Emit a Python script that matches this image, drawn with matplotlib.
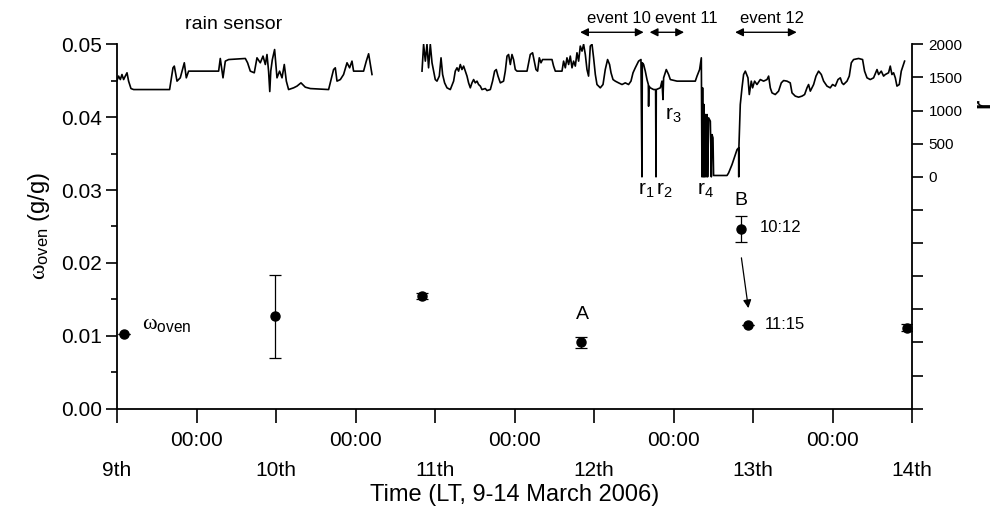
import matplotlib
matplotlib.use("Agg")
import matplotlib.pyplot as plt
import matplotlib.transforms as mtransforms
import numpy as np

plt.rcParams['font.family'] = ['Liberation Sans', 'DejaVu Sans']
plt.rcParams['mathtext.fontset'] = 'custom'
plt.rcParams['mathtext.rm'] = 'Liberation Sans'
plt.rcParams['mathtext.it'] = 'Liberation Serif'
plt.rcParams['mathtext.bf'] = 'Liberation Sans:bold'

# ---------------- data ----------------
# time axis: hours since 9 March 2006 12:00 LT
tick_hours = [0, 12, 24, 36, 48, 60, 72, 84, 96, 108, 120]
tick_labels = ['9th', '00:00', '10th', '00:00', '11th', '00:00', '12th', '00:00', '13th', '00:00', '14th']

# oven-dried water content samples
oven_h = [1.1, 23.85, 46.0, 70.1, 94.2, 95.25, 119.2]
oven_w = [0.0103, 0.0127, 0.0155, 0.0091, 0.0247, 0.0115, 0.0111]
oven_err = [0.0, 0.0057, 0.0004, 0.0008, 0.0018, 0.0, 0.0005]

# rain sensor record r (before the data gap)
rain_h_1 = [0.0, 0.24, 0.50, 0.75, 1.00, 1.25, 1.51, 1.75, 2.11, 2.51, 7.94, 8.45, 8.65, 9.06,
            9.55, 10.16, 10.46, 10.81, 15.34, 15.59, 16.00, 16.35, 16.85, 19.37, 19.71, 20.12,
            20.72, 21.13, 21.63, 22.04, 22.39, 22.64, 22.88, 23.06, 23.21, 23.44, 23.79, 24.15,
            24.54, 24.91, 25.25, 25.56, 25.90, 26.66, 27.17, 27.77, 28.42, 29.18, 31.94, 32.69,
            32.95, 33.21, 33.71, 34.20, 34.72, 35.11, 35.47, 35.71, 37.22, 37.63, 37.98, 38.49]
rain_r_1 = [1453, 1520, 1468, 1544, 1468, 1520, 1570, 1444, 1332, 1317, 1317, 1645, 1671, 1444,
            1494, 1721, 1494, 1595, 1595, 1786, 1494, 1746, 1770, 1786, 1721, 1595,
            1570, 1796, 1721, 1822, 1695, 1846, 1595, 1287, 1595, 1766, 1921, 1494,
            1595, 1494, 1695, 1444, 1317, 1343, 1369, 1418, 1353, 1332, 1317, 1619,
            1645, 1444, 1468, 1544, 1721, 1645, 1746, 1595, 1595, 1746, 1857, 1544]

# rain sensor record r (after the data gap)
rain_h_2 = [46.04, 46.28, 46.54, 46.79, 47.03, 47.29, 47.55, 47.79, 48.04, 48.30, 48.65, 48.91,
            49.15, 49.45, 49.81, 50.31, 50.81, 51.06, 51.32, 51.56, 51.82, 52.07, 52.32, 52.57,
            52.83, 53.07, 53.33, 53.58, 53.83, 54.08, 54.34, 54.58, 54.84, 55.09, 55.59, 55.85,
            56.35, 56.69, 57.00, 57.25, 57.51, 57.86, 58.35, 58.61, 58.87, 59.11, 59.37, 59.62,
            59.86, 60.12, 60.38, 61.89, 62.13, 62.38, 62.73, 63.03, 63.24, 63.49, 63.74, 64.00,
            64.24, 65.66, 65.90, 66.16, 67.17, 67.41, 67.67, 67.92, 68.17, 68.42, 68.68, 68.92,
            69.18, 69.43, 69.68, 69.93, 70.19, 70.43, 70.69, 70.94, 71.18, 71.44, 71.70, 71.94,
            72.20, 72.45, 72.95, 73.36, 73.70, 74.05, 74.35, 74.57, 74.87, 75.21, 75.71, 76.23,
            76.72, 77.22, 77.58, 77.89, 78.23, 78.73, 79.09, 79.24, 79.29, 79.49, 79.74, 80.00,
            80.20, 80.24, 80.30, 80.50, 81.00, 81.30, 81.36, 81.40, 82.01, 82.26, 82.41, 82.51,
            82.91, 83.26, 83.52, 84.53, 87.29, 87.55, 87.94, 88.20, 88.30, 88.39, 88.50, 88.60,
            88.69, 88.80, 88.91, 89.06, 89.15, 89.30, 89.56, 89.71, 89.81, 89.96, 90.05, 92.08,
            92.32, 92.83, 93.33, 93.59, 93.83, 93.85, 93.87, 94.08, 94.34, 94.58, 94.84, 95.24,
            95.44, 95.74, 95.94, 96.24, 96.60, 97.10, 97.60, 98.11, 98.36, 98.61, 98.87, 99.36,
            99.86, 100.27, 100.62, 101.13, 101.62, 101.89, 102.38, 102.88, 103.40, 103.79, 104.15,
            104.39, 104.65, 105.15, 105.51, 105.90, 106.31, 106.66, 107.17, 107.66, 108.01, 108.42,
            108.83, 109.18, 109.43, 109.67, 110.19, 110.53, 110.84, 111.18, 111.94, 112.54, 112.84,
            113.21, 113.70, 114.20, 114.72, 114.96, 115.36, 115.71, 115.97, 116.46, 116.72, 116.97,
            117.22, 117.48, 117.73, 118.08, 118.38, 118.64, 118.88]
rain_r_2 = [1595, 2000, 1746, 2000, 1645, 2000, 1721, 1595, 1468, 1444, 1520, 1796,
            1544, 1418, 1343, 1317, 1444, 1595, 1645, 1595, 1695, 1619, 1671, 1595,
            1520, 1418, 1343, 1418, 1468, 1418, 1444, 1393, 1369, 1317, 1332, 1302,
            1317, 1444, 1595, 1619, 1520, 1418, 1444, 1595, 1822, 1846, 1695, 1846,
            1770, 1619, 1595, 1595, 1721, 1846, 1872, 1721, 1619, 1595, 1796, 1721,
            1770, 1770, 1671, 1595, 1595, 1746, 1645, 1796, 1695, 1822, 1645, 1746,
            1671, 1872, 1746, 1973, 1897, 2000, 1846, 1619, 1520, 1973, 2000, 1796,
            1544, 1393, 1343, 1393, 1619, 1770, 1695, 1570, 1468, 1444, 1418, 1393,
            1418, 1393, 1444, 1570, 1645, 1746, 1770, 0, 1721, 1695, 1595, 1468,
            1393, 1066, 1369, 1343, 1317, 1317, 0, 1317, 1343, 1444, 1166, 1494,
            1619, 1544, 1468, 1444, 1444, 1520, 1619, 1796, 0, 1343, 0, 1091,
            0, 940, 0, 940, 0, 890, 840, 0, 637, 588, 20, 20,
            59, 184, 335, 411, 437, 0, 437, 1091, 1343, 1544, 1595, 1494,
            1242, 1444, 1343, 1444, 1393, 1468, 1444, 1468, 1520, 1343, 1267, 1242,
            1293, 1418, 1453, 1444, 1418, 1267, 1218, 1202, 1218, 1242, 1343,
            1393, 1293, 1393, 1520, 1595, 1544, 1444, 1369, 1343, 1393, 1369,
            1468, 1494, 1418, 1393, 1444, 1520, 1721, 1770, 1786, 1770, 1595,
            1494, 1468, 1494, 1619, 1544, 1595, 1520, 1544, 1570, 1671, 1544,
            1570, 1494, 1369, 1393, 1595, 1671, 1746]

# events (start, end hours) and names
event_names = ['event 10', 'event 11', 'event 12']
event_start = [69.9, 80.4, 93.3]
event_end = [79.5, 85.6, 102.6]
event_label_h = [75.7, 85.9, 98.9]

r_ticks = list(range(-3500, 2001, 500))

# ---------------- figure ----------------
W, H = 997, 518
fig = plt.figure(figsize=(W / 100, H / 100), dpi=100)
x0, x1 = 117, 912
y_top, y_bot = 44.3, 408.7
ax = fig.add_axes([x0 / W, (H - y_bot) / H, (x1 - x0) / W, (y_bot - y_top) / H])
ax2 = ax.twinx()

lw_sp = 1.3
for s in ['top', 'right']:
    ax.spines[s].set_visible(False)
for s in ['left', 'bottom']:
    ax.spines[s].set_linewidth(lw_sp)
for s in ['top', 'left', 'bottom']:
    ax2.spines[s].set_visible(False)
ax2.spines['right'].set_linewidth(lw_sp)

# rain sensor trace
ax2.plot(rain_h_1, rain_r_1, color='black', lw=1.2)
ax2.plot(rain_h_2, rain_r_2, color='black', lw=1.2)
ax2.set_ylim(-3500, 2000)
ax2.set_yticks(r_ticks)
ax2.set_yticklabels([str(v) if v >= 0 else '' for v in r_ticks], fontsize=11)
ax2.tick_params(axis='y', direction='out', length=8, width=1.2, pad=4)

# oven samples
ax.errorbar(oven_h, oven_w, yerr=oven_err, fmt='o', color='black', ms=6.5,
            ecolor='black', elinewidth=0.9, capsize=4.5, capthick=0.9, zorder=5)

ax.set_xlim(0, 120)
ax.set_ylim(0, 0.05)
ax.set_yticks(np.arange(0, 0.0501, 0.01))
ax.set_yticklabels(['0.00', '0.01', '0.02', '0.03', '0.04', '0.05'], fontsize=15)
ax.set_yticks(np.arange(0, 0.0501, 0.005), minor=True)
ax.tick_params(axis='y', which='major', direction='out', length=8, width=1.2, pad=3)
ax.tick_params(axis='y', which='minor', direction='out', length=4, width=1.2)
ax.set_xticks(tick_hours)
ax.set_xticklabels([])
ax.tick_params(axis='x', direction='out', length=10, width=1.2)

xtrans = ax.get_xaxis_transform()
for h, lab in zip(tick_hours, tick_labels):
    yy = -0.086 if lab == '00:00' else -0.170
    ax.text(h, yy, lab, transform=xtrans, ha='center', va='center', fontsize=15, clip_on=False)

ax.text(0.5, -0.238, 'Time (LT, 9-14 March 2006)', transform=ax.transAxes,
        ha='center', va='center', fontsize=17)
ax.set_ylabel(r'$\omega_{\rm oven}$ (g/g)', fontsize=17, labelpad=6)

fig.text(983 / W, 1 - 103 / H, 'r', rotation=90, ha='center', va='center',
         fontsize=17, fontweight='bold')

# event arrows
for name, s, e, lh in zip(event_names, event_start, event_end, event_label_h):
    ax.annotate('', xy=(e, 1.033), xytext=(s, 1.033), xycoords=xtrans, textcoords=xtrans,
                arrowprops=dict(arrowstyle='<|-|>', color='black', lw=1.0,
                                mutation_scale=12, shrinkA=0, shrinkB=0),
                annotation_clip=False)
    ax.text(lh, 1.072, name, transform=xtrans, ha='center', va='center', fontsize=12)

ax.text(17.6, 1.055, 'rain sensor', transform=xtrans, ha='center', va='center', fontsize=14)

# point labels
ax.text(70.25, 0.0129, 'A', ha='center', va='center', fontsize=14)
ax.text(94.1, 0.0286, 'B', ha='center', va='center', fontsize=14)
ax.text(97.05, 0.0248, '10:12', ha='left', va='center', fontsize=12)
ax.text(97.8, 0.0115, '11:15', ha='left', va='center', fontsize=12)
ax.text(3.8, 0.0110, r'$\omega_{\rm oven}$', ha='left', va='baseline', fontsize=16)
ax.annotate('', xy=(95.3, 0.0138), xytext=(94.25, 0.0207),
            arrowprops=dict(arrowstyle='-|>', color='black', lw=0.9,
                            mutation_scale=12, shrinkA=0, shrinkB=0))

# r labels (rain sensor axis)
ax2.text(78.68, -273, r'$\mathregular{r_1}$', ha='left', va='baseline', fontsize=15)
ax2.text(81.4, -273, r'$\mathregular{r_2}$', ha='left', va='baseline', fontsize=15)
ax2.text(82.76, 859, r'$\mathregular{r_3}$', ha='left', va='baseline', fontsize=15)
ax2.text(87.6, -273, r'$\mathregular{r_4}$', ha='left', va='baseline', fontsize=15)

fig.savefig('out.png', dpi=100)
